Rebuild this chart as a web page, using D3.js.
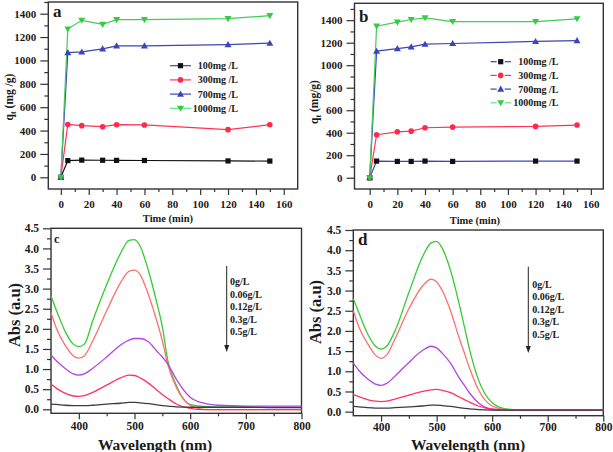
<!DOCTYPE html>
<html><head><meta charset="utf-8">
<script src="https://cdn.jsdelivr.net/npm/d3@7"></script>
<style>
body{margin:0;background:#fff;}
svg{display:block;}
text{font-family:"Liberation Serif","Times New Roman",serif;font-weight:bold;fill:#1a1a1a;}
</style></head><body>
<svg id="c" width="613" height="452"></svg>
<script>
// ---------- DATA ----------
const timesA = [0, 5, 15, 30, 40, 60, 120, 150];
const timesB = [0, 5, 20, 30, 40, 60, 120, 150];
const seriesNames = ["100mg /L", "300mg /L", "700mg /L", "1000mg /L"];
const qA100  = [0, 143, 147, 146, 145, 144, 140, 139];
const qA300  = [0, 452, 442, 433, 450, 448, 408, 450];
const qA700  = [0, 1067, 1073, 1099, 1125, 1125, 1136, 1148];
const qA1000 = [0, 1268, 1343, 1308, 1349, 1349, 1357, 1383];
const qB100  = [0, 148, 145, 145, 148, 145, 148, 148];
const qB300  = [0, 382, 408, 414, 444, 450, 456, 468];
const qB700  = [0, 1125, 1148, 1163, 1187, 1193, 1211, 1219];
const qB1000 = [0, 1347, 1382, 1406, 1421, 1388, 1388, 1412];
const timeTicks = [0, 20, 40, 60, 80, 100, 120, 140, 160];
const qTicks = [0, 200, 400, 600, 800, 1000, 1200, 1400];

const doseNames = ["0g/L", "0.06g/L", "0.12g/L", "0.3g/L", "0.5g/L"];
const wl = [350,360,375,390,400,410,425,450,475,490,500,510,525,540,550,560,575,600,625,650,700,750,800];
const absC_green  = [2.82,2.45,1.95,1.62,1.56,1.62,2.2,3.1,3.88,4.2,4.22,4.06,3.45,2.65,2.05,1.2,0.6,0.12,0.07,0.05,0.05,0.05,0.05];
const absC_salmon = [2.40,2.0,1.6,1.33,1.27,1.33,1.7,2.45,3.15,3.43,3.46,3.35,2.85,2.2,1.7,1.1,0.55,0.1,0.0,-0.01,-0.01,-0.01,-0.01];
const absC_purple = [1.35,1.2,1.02,0.88,0.85,0.88,1.02,1.3,1.6,1.72,1.76,1.76,1.68,1.45,1.3,1.12,0.75,0.3,0.15,0.1,0.08,0.08,0.08];
const absC_red    = [0.62,0.52,0.4,0.33,0.32,0.34,0.42,0.6,0.78,0.85,0.84,0.78,0.65,0.48,0.37,0.27,0.13,0.02,-0.01,-0.01,-0.01,-0.01,-0.01];
const absC_dark   = [0.13,0.12,0.1,0.09,0.09,0.09,0.1,0.13,0.15,0.17,0.17,0.16,0.14,0.11,0.09,0.08,0.06,0.05,0.05,0.05,0.05,0.04,0.04];
const absD_green  = [2.8,2.45,1.95,1.62,1.55,1.62,2.0,2.95,3.85,4.18,4.22,4.05,3.5,2.7,2.1,1.5,0.8,0.22,0.07,0.05,0.05,0.05,0.05];
const absD_salmon = [2.5,2.1,1.7,1.4,1.32,1.4,1.8,2.55,3.12,3.28,3.22,3.0,2.5,1.85,1.45,1.05,0.55,0.14,0.05,0.04,0.04,0.04,0.04];
const absD_purple = [1.2,1.02,0.82,0.68,0.65,0.7,0.88,1.22,1.52,1.62,1.58,1.45,1.2,0.85,0.65,0.45,0.22,0.06,0.04,0.04,0.04,0.04,0.04];
const absD_red    = [0.42,0.37,0.3,0.26,0.25,0.26,0.31,0.41,0.5,0.54,0.55,0.53,0.47,0.37,0.3,0.23,0.14,0.06,0.04,0.04,0.04,0.04,0.04];
const absD_dark   = [0.13,0.12,0.1,0.09,0.09,0.09,0.1,0.12,0.14,0.16,0.16,0.15,0.13,0.1,0.08,0.07,0.05,0.04,0.04,0.04,0.04,0.04,0.04];
const wlTicks = [400, 500, 600, 700, 800];
const absTicks = [0, 0.5, 1.0, 1.5, 2.0, 2.5, 3.0, 3.5, 4.0, 4.5];

// ---------- DRAW ----------
const svg = d3.select("#c");
const AX = "#333";

function frame(x, y) {
  const [x0, x1] = x.range(), [y0, y1] = y.range();
  svg.append("rect").attr("x", x0).attr("y", y1).attr("width", x1 - x0).attr("height", y0 - y1)
    .attr("fill", "none").attr("stroke", AX).attr("stroke-width", 1.4);
}
function axes(x, y, xt, xminor, yt, yminor, xfmt, yfmt, fs, xpad) {
  const [x0] = x.range(), [y0] = y.range();
  const gx = svg.append("g").attr("transform", `translate(0,${y0})`);
  gx.call(d3.axisBottom(x).tickValues(xminor).tickSize(3).tickFormat(""));
  const gx2 = svg.append("g").attr("transform", `translate(0,${y0})`);
  gx2.call(d3.axisBottom(x).tickValues(xt).tickSize(6).tickPadding(xpad).tickFormat(xfmt));
  const gy = svg.append("g").attr("transform", `translate(${x0},0)`);
  gy.call(d3.axisLeft(y).tickValues(yminor).tickSize(4).tickFormat(""));
  const gy2 = svg.append("g").attr("transform", `translate(${x0},0)`);
  gy2.call(d3.axisLeft(y).tickValues(yt).tickSize(8).tickPadding(4).tickFormat(yfmt));
  [gx, gx2, gy, gy2].forEach(g => {
    g.select(".domain").remove();
    g.selectAll("line").attr("stroke", AX).attr("stroke-width", 1.2);
    g.selectAll("text").attr("font-family", "Liberation Serif").attr("font-weight", "bold")
      .attr("font-size", fs).attr("fill", "#1a1a1a");
  });
  return [gx2, gy2];
}
function marker(g, type, cx, cy, color) {
  if (type === "square") g.append("rect").attr("x", cx - 2.6).attr("y", cy - 2.6).attr("width", 5.2).attr("height", 5.2).attr("fill", color);
  else if (type === "circle") g.append("circle").attr("cx", cx).attr("cy", cy).attr("r", 2.8).attr("fill", color);
  else if (type === "up") g.append("path").attr("d", `M${cx},${cy - 3.5}L${cx + 3.5},${cy + 2.6}L${cx - 3.5},${cy + 2.6}Z`).attr("fill", color);
  else g.append("path").attr("d", `M${cx},${cy + 3.5}L${cx + 3.5},${cy - 2.6}L${cx - 3.5},${cy - 2.6}Z`).attr("fill", color);
}

const markerTypes = ["square", "circle", "up", "down"];
const markerColors = ["#111", "#ff2a4a", "#3a46b8", "#33cc44"];

function kinetic(opts) {
  const x = d3.scaleLinear().domain(opts.xd).range(opts.xr);
  const y = d3.scaleLinear().domain(opts.yd).range(opts.yr);
  axes(x, y, timeTicks, d3.range(10, 170, 20), qTicks, d3.range(100, 1600, 200).filter(v => v <= opts.yd[1]), d3.format("d"), d3.format("d"), 11, 5);
  frame(x, y);
  const line = d3.line().x(d => x(d[0])).y(d => y(d[1]));
  opts.series.forEach((vals, i) => {
    const pts = opts.times.map((t, j) => [t, vals[j]]);
    svg.append("path").attr("d", line(pts)).attr("fill", "none").attr("stroke", opts.lineColors[i]).attr("stroke-width", 1.2);
  });
  opts.series.forEach((vals, i) => {
    const g = svg.append("g");
    opts.times.forEach((t, j) => marker(g, markerTypes[i], x(t), y(vals[j]), markerColors[i]));
  });
  // legend
  seriesNames.forEach((n, i) => {
    const ly = opts.leg.y + i * opts.leg.dy;
    const g = svg.append("g");
    if (opts.leg.split) {
      g.append("line").attr("x1", opts.leg.x0).attr("x2", opts.leg.xm - 4).attr("y1", ly).attr("y2", ly).attr("stroke", opts.legColors[i]).attr("stroke-width", 1.2);
      g.append("line").attr("x1", opts.leg.xm + 4).attr("x2", opts.leg.x1).attr("y1", ly).attr("y2", ly).attr("stroke", opts.legColors[i]).attr("stroke-width", 1.2);
    } else {
      g.append("line").attr("x1", opts.leg.x0).attr("x2", opts.leg.x1).attr("y1", ly).attr("y2", ly).attr("stroke", opts.legColors[i]).attr("stroke-width", 1.2);
    }
    marker(g, markerTypes[i], opts.leg.xm, ly, markerColors[i]);
    svg.append("text").attr("x", opts.leg.tx).attr("y", ly + 3.5).attr("text-anchor", "end").attr("font-size", 10).text(n);
  });
  // titles
  const yt = svg.append("text").attr("transform", `translate(${opts.ytx},${opts.yty}) rotate(-90)`).attr("text-anchor", "middle").attr("font-size", 11.5);
  yt.append("tspan").text("q");
  yt.append("tspan").attr("font-size", 8).attr("dy", 3).text("t");
  yt.append("tspan").attr("dy", -3).text(opts.yunit);
  svg.append("text").attr("x", opts.xtx).attr("y", opts.xty).attr("text-anchor", "middle").attr("font-size", 10.5).text("Time (min)");
  svg.append("text").attr("x", opts.lab[0]).attr("y", opts.lab[1]).attr("font-size", 17).attr("font-weight", "normal").text(opts.label);
}

kinetic({
  xd: [-9, 170], xr: [48.3, 297.7], yd: [-100, 1500], yr: [189, 2],
  times: timesA, series: [qA100, qA300, qA700, qA1000],
  lineColors: ["#111", "#ff3355", "#3a46b8", "#44cc55"],
  legColors: ["#3a46b8", "#ff3355", "#3a46b8", "#66dd88"],
  leg: { x0: 170, x1: 191, xm: 180.5, y: 65.7, dy: 14.2, tx: 238, split: false },
  ytx: 13, yty: 97, yunit: " (mg /g)", xtx: 168, xty: 222, lab: [53, 17], label: "a"
});
kinetic({
  xd: [-11, 169], xr: [354.5, 603.3], yd: [-100, 1550], yr: [189, 3.3],
  times: timesB, series: [qB100, qB300, qB700, qB1000],
  lineColors: ["#3a46b8", "#ff3355", "#3a46b8", "#44cc55"],
  legColors: ["#3a46b8", "#ff3355", "#3a46b8", "#66dd88"],
  leg: { x0: 490.5, x1: 511, xm: 500.7, y: 61.7, dy: 13.7, tx: 558.5, split: true },
  ytx: 318, yty: 102, yunit: " (mg/g)", xtx: 475, xty: 224, lab: [359, 22], label: "b"
});

const specColors = ["#33cc33", "#ff6f6f", "#b444e6", "#ff3366", "#3a3a4a"];
function spectra(opts) {
  const x = d3.scaleLinear().domain([350, 800]).range(opts.xr);
  const y = d3.scaleLinear().domain([-0.1, 4.5]).range(opts.yr);
  axes(x, y, wlTicks, [450, 550, 650, 750], absTicks, d3.range(0.25, 4.5, 0.5), d3.format("d"), d3.format(".1f"), 11.5, opts.xpad);
  frame(x, y);
  const line = d3.line().x(d => x(d[0])).y(d => y(d[1])).curve(d3.curveMonotoneX);
  opts.series.forEach((vals, i) => {
    svg.append("path").attr("d", line(wl.map((w, j) => [w, vals[j]]))).attr("fill", "none")
      .attr("stroke", specColors[i]).attr("stroke-width", 1.3);
  });
  // arrow legend
  svg.append("line").attr("x1", opts.ax).attr("x2", opts.ax).attr("y1", opts.ay0).attr("y2", opts.ay1 - 5).attr("stroke", "#222").attr("stroke-width", 1);
  svg.append("path").attr("d", `M${opts.ax - 2.5},${opts.ay1 - 7}L${opts.ax + 2.5},${opts.ay1 - 7}L${opts.ax},${opts.ay1}Z`).attr("fill", "#222");
  doseNames.forEach((n, i) => {
    svg.append("text").attr("x", opts.tx).attr("y", opts.ty + i * opts.tdy + 3.5).attr("font-size", 10).text(n);
  });
  svg.append("text").attr("transform", `translate(${opts.ytx},${opts.yty}) rotate(-90)`).attr("text-anchor", "middle").attr("font-size", 16.5).text("Abs (a.u)");
  svg.append("text").attr("x", opts.xtx).attr("y", opts.xty).attr("text-anchor", "middle").attr("font-size", 15.5).text("Wavelength (nm)");
  svg.append("text").attr("x", opts.lab[0]).attr("y", opts.lab[1]).attr("font-size", opts.labfs).attr("font-weight", "normal")
    .attr("font-family", opts.labff).text(opts.label);
}
spectra({
  xr: [51, 301.5], yr: [413.3, 228.3], series: [absC_green, absC_salmon, absC_purple, absC_red, absC_dark],
  ax: 226.7, ay0: 266, ay1: 352, tx: 230, ty: 281.7, tdy: 12.5, xpad: 3,
  ytx: 20, yty: 315, xtx: 155, xty: 449.5, lab: [54, 243], label: "c", labfs: 12, labff: "Liberation Sans"
});
spectra({
  xr: [353.3, 603.3], yr: [415.7, 230], series: [absD_green, absD_salmon, absD_purple, absD_red, absD_dark],
  ax: 528.3, ay0: 266.7, ay1: 353, tx: 532.3, ty: 284, tdy: 12.6, xpad: 1.5,
  ytx: 321, yty: 312, xtx: 468, xty: 450, lab: [358, 245], label: "d", labfs: 17, labff: "Liberation Serif"
});
</script>
</body></html>
